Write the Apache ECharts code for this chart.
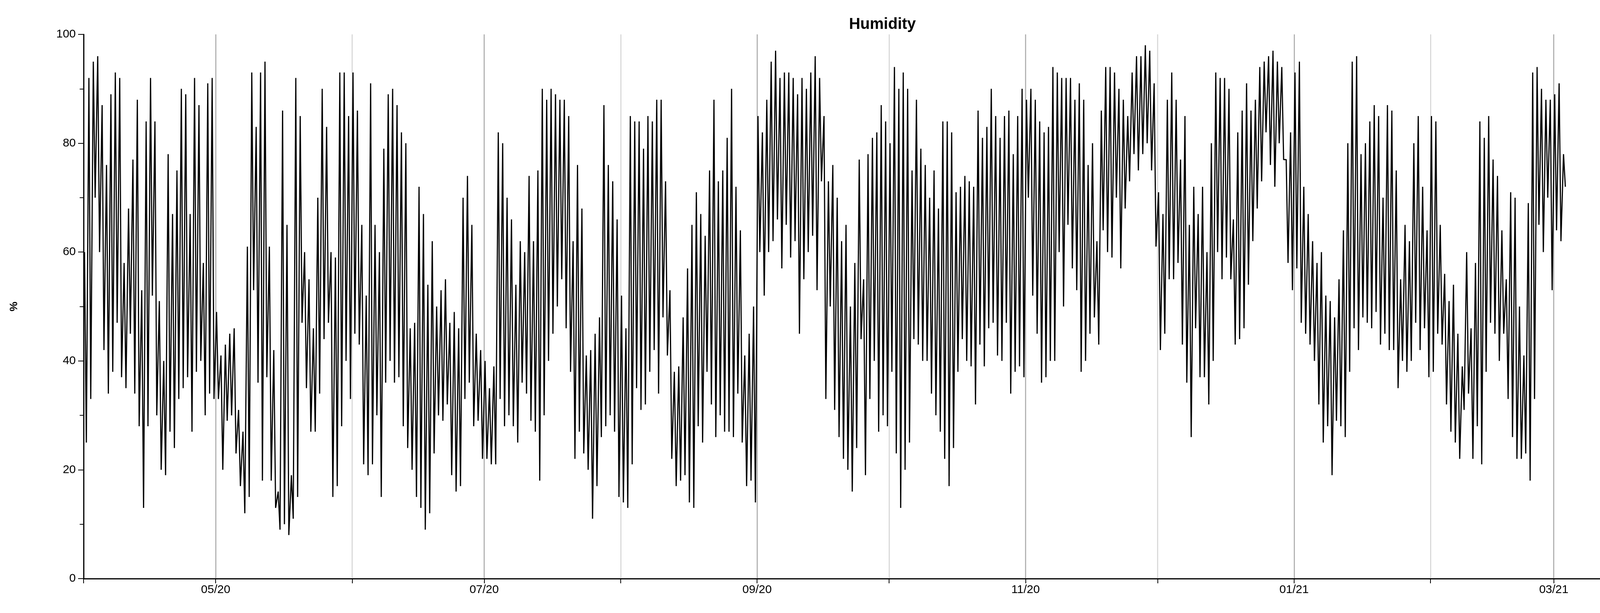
<!DOCTYPE html>
<html>
<head>
<meta charset="utf-8">
<script src="https://cdn.jsdelivr.net/npm/echarts@6/dist/echarts.min.js"></script>
<style>
  html, body { margin: 0; padding: 0; background: #fff; }
  #chart { width: 4193px; height: 1569px; }
</style>
</head>
<body>
<div id="chart"></div>
<script>
// daily highs / lows, one array per month
var startDay = '2020-04-01'
var hiApr = [60,92,95,96,87,76,89,93,92,58,68,77,88,53,84,92,84,51,40,78,67,75,90,89,67,92,87,58,91,92]
var loApr = [25,33,70,60,42,34,38,47,37,35,45,34,28,13,28,52,30,20,19,27,24,33,35,37,27,38,40,30,34,33]
var hiMay = [49,41,43,45,46,31,27,61,93,83,93,95,61,42,16,86,65,19,92,85,60,55,46,70,90,83,60,59,93,93,85]
var loMay = [33,20,29,30,23,17,12,15,53,36,18,37,18,13,9,10,8,11,15,47,35,27,27,34,44,47,15,17,28,40,33]
var hiJun = [93,86,65,52,91,65,60,79,89,90,87,82,80,46,47,72,67,54,62,50,53,55,47,49,46,70,74,65,45,42]
var loJun = [45,43,21,19,21,30,15,36,40,36,37,28,24,20,15,13,9,12,23,30,29,32,19,16,17,33,36,28,29,22]
var hiJul = [40,35,39,82,80,70,66,54,62,60,74,62,75,90,88,90,89,88,88,85,62,76,68,41,42,45,48,87,76,73,66]
var loJul = [22,21,21,33,28,30,28,25,36,34,29,27,18,30,40,45,50,55,46,38,22,27,23,20,11,17,26,28,30,27,15]
var hiAug = [52,46,85,84,84,79,85,84,88,88,73,53,38,39,48,57,65,71,67,63,75,88,73,75,81,90,72,64,41,45,50]
var loAug = [14,13,21,35,31,32,38,42,34,48,41,22,17,18,19,14,13,28,25,38,32,26,30,27,27,26,34,25,17,18,14]
var hiSep = [85,82,88,95,97,92,93,93,92,89,92,90,93,96,92,85,73,76,70,62,65,50,58,77,55,78,81,82,87,84]
var loSep = [60,52,60,62,66,57,65,59,62,45,55,60,63,53,73,33,50,31,26,22,20,16,24,44,19,33,40,27,30,28]
var hiOct = [80,94,90,93,90,75,88,79,76,70,75,68,84,84,82,71,72,74,73,72,86,81,83,90,85,81,85,86,78,85,90]
var loOct = [38,23,13,20,25,44,43,40,40,34,30,27,22,17,24,38,44,40,39,32,43,39,46,47,41,40,47,34,38,39,37]
var hiNov = [88,90,88,84,82,83,94,93,92,92,92,88,91,88,76,80,62,86,94,94,93,90,88,85,93,96,96,98,97,91]
var loNov = [70,52,45,36,37,40,40,60,50,65,57,53,38,40,45,48,43,64,60,59,70,57,68,73,78,75,78,80,75,61]
var hiDec = [71,67,88,93,88,77,85,65,72,67,72,60,80,93,92,92,90,66,82,86,91,86,88,94,95,96,97,95,94,77,82]
var loDec = [42,45,55,55,58,43,36,26,46,37,37,32,40,60,55,59,55,43,44,46,54,62,68,73,82,76,72,80,77,58,53]
var hiJan = [93,95,72,67,62,58,60,52,51,48,55,64,80,95,96,78,80,84,87,85,70,87,86,75,55,65,62,80,85,72,64]
var loJan = [57,47,45,43,40,32,25,28,19,29,28,26,38,46,42,48,47,46,49,43,45,42,42,35,40,38,40,47,42,46,37]
var hiFeb = [85,84,65,56,51,54,45,39,60,46,58,84,81,85,77,74,64,55,71,70,50,41,69,93,94,90,88,88]
var loFeb = [38,45,43,32,27,25,22,31,34,22,28,21,38,47,45,40,45,33,26,22,22,23,18,33,65,60,70,53]
var hiMar = [89,91,78]
var loMar = [64,62,72]

var yTicks = [0, 20, 40, 60, 80, 100]

var highs = [].concat(hiApr, hiMay, hiJun, hiJul, hiAug, hiSep, hiOct, hiNov, hiDec, hiJan, hiFeb, hiMar)
var lows  = [].concat(loApr, loMay, loJun, loJul, loAug, loSep, loOct, loNov, loDec, loJan, loFeb, loMar)

// each day: humid peak early morning, dry trough in the afternoon
var DAY = 24 * 3600 * 1000
var t0 = new Date(startDay + 'T00:00:00').getTime()
var points = []
for (var i = 0; i < highs.length; i++) {
  points.push([t0 + i * DAY + 5 * 3600 * 1000, highs[i]])
  points.push([t0 + i * DAY + 15 * 3600 * 1000, lows[i]])
}

var myChart = echarts.init(document.getElementById('chart'), null, { renderer: 'canvas' })
var FONT = 'Liberation Sans'

myChart.setOption({
  backgroundColor: '#ffffff',
  animation: false,
  title: {
    text: 'Humidity',
    left: 2254,
    top: 38,
    textAlign: 'center',
    textStyle: { fontFamily: FONT, fontSize: 40, fontWeight: 'bold', color: '#000' }
  },
  grid: { left: 214, right: 35, top: 88, bottom: 88 },
  xAxis: {
    type: 'time',
    min: '2020-04-01',
    max: '2021-03-17',
    minInterval: 28 * DAY,
    maxInterval: 31 * DAY,
    axisLine: { lineStyle: { color: '#000', width: 3 } },
    axisTick: { show: true, length: 12, lineStyle: { color: '#000', width: 2 } },
    axisLabel: {
      fontFamily: FONT,
      fontSize: 30,
      color: '#000',
      margin: 14,
      formatter: function(val) {
        var d = new Date(val)
        var m = d.getMonth() + 1
        if (m % 2 === 0) return ''
        return (m < 10 ? '0' + m : m) + '/' + String(d.getFullYear()).slice(2)
      }
    },
    splitLine: { show: true, lineStyle: { color: ['#b4b4b4', '#dadada'], width: 3 } }
  },
  yAxis: {
    type: 'value',
    min: yTicks[0],
    max: yTicks[yTicks.length - 1],
    interval: 20,
    name: '%',
    nameLocation: 'middle',
    nameGap: 164,
    nameRotate: 90,
    nameTextStyle: { fontFamily: FONT, fontSize: 28, fontWeight: 'bold', color: '#000' },
    axisLine: { show: true, lineStyle: { color: '#000', width: 3 } },
    axisTick: { show: true, length: 14, lineStyle: { color: '#000', width: 2 } },
    minorTick: { show: true, splitNumber: 2, length: 10, lineStyle: { color: '#000', width: 2 } },
    axisLabel: { fontFamily: FONT, fontSize: 30, color: '#000', margin: 20 },
    splitLine: { show: false }
  },
  series: [{
    type: 'line',
    data: points,
    symbol: 'none',
    lineStyle: { color: '#000', width: 3 }
  }]
})

window.addEventListener('resize', function() { myChart.resize() })
</script>
</body>
</html>
